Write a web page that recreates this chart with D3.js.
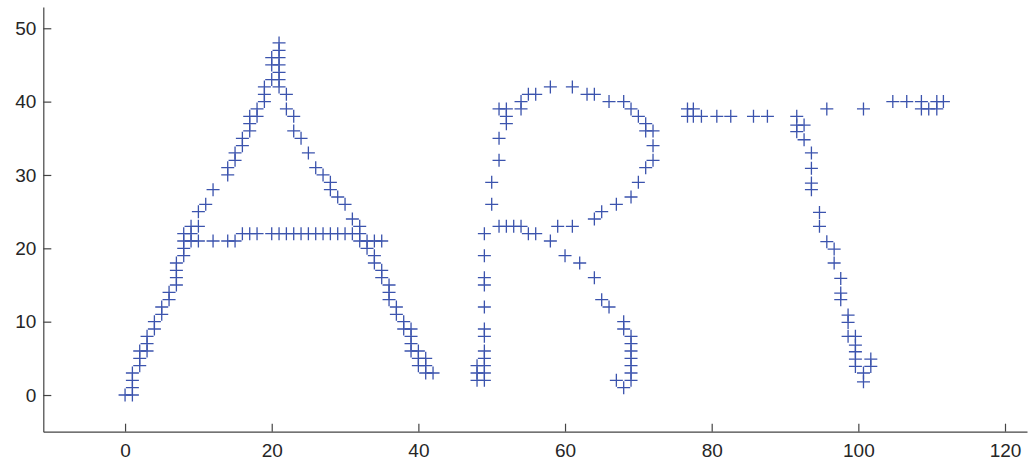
<!DOCTYPE html>
<html>
<head>
<meta charset="utf-8">
<script src="https://cdn.jsdelivr.net/npm/d3@7"></script>
<style>
  body { margin: 0; background: #fff; }
  .tick text { font-family: "Liberation Sans", Arial, sans-serif; font-size: 19px; fill: #262626; }
</style>
</head>
<body>
<script>
var W = 1031, H = 468;

// points, one array per letter
var letterA = [
   [0,0],[1,0],[1,1],[1,2],[1,3],[2,4],[2,5],[2,6],[3,6],[3,7],[3,8],[4,9],[4,10],
   [5,11],[5,12],[6,13],[6,14],[7,15],[7,16],[7,17],[7,18],[8,19],[8,20],[8,21],[9,21],
   [10,21],[8,22],[9,22],[9,23],[10,23],[10,25],[11,26],[12,28],[14,30],[14,31],[15,32],
   [15,33],[16,34],[16,35],[17,36],[17,37],[17,38],[18,38],[18,39],[19,40],[19,41],[19,42],
   [20,43],[21,43],[21,42],[21,44],[20,45],[21,45],[20,46],[21,46],[21,47],[21,48],
   // right stroke
   [22,41],[22,39],[23,38],[23,36],[24,35],[25,33],[26,31],[27,30],[28,29],[28,28],
   [29,27],[30,26],[31,24],[32,23],[32,22],[32,21],[33,21],[34,21],[35,21],[33,20],
   [34,19],[34,18],[35,17],[35,16],[36,15],[36,14],[36,13],[37,12],[37,11],[38,10],
   [38,9],[39,9],[39,8],[39,7],[39,6],[40,6],[40,5],[41,5],[40,4],[41,4],[41,3],[42,3],
   // crossbar
   [12,21],[14,21],[15,21],[16,22],[17,22],[18,22],[20,22],[21,22],[22,22],[23,22],
   [24,22],[25,22],[26,22],[27,22],[28,22],[29,22],[30,22],[31,22]
];

var letterR = [
   [49,22],[49,19],[49,16],[49,15],[49,12],[49,9],[49,8],[49,6],[49,5],[49,4],[49,3],[49,2],
   [48,4],[48,3],[48,2],
   [50,26],[50,29],[51,32],[51,35],[52,37],[52,38],[51,39],[52,39],[54,39],[54,40],
   [55,41],[56,41],[58,42],[61,42],[63,41],[64,41],[66,40],[68,40],[69,39],[70,38],
   [71,37],[71,36],[72,36],[72,34],[72,32],[71,31],[70,29],[69,27],[67,26],[65,25],
   [64,24],[61,23],[59,23],[54,23],[53,23],[52,23],[51,23],[55,22],[56,22],
   [58,21],[60,19],[62,18],[64,16],[65,13],[66,12],[68,10],[68,9],
   [69,8],[69,7],[69,6],[69,5],[69,4],[69,3],[69,2],[67,2],[68,1]
];

var letterT = [
   [76.7,39],[77.5,39],[76.7,38],[77.5,38],[78.6,38],[80.7,38],[82.6,38],[85.7,38],
   [87.6,38],[91.6,38],[91.6,36.8],[92.6,36.8],[91.6,35.9],[92.6,34.8],[93.6,33],
   [93.6,30.9],[93.6,28.9],[93.6,28],[95.7,39],[100.7,39],[104.7,40],[106.6,40],
   [108.6,40],[110.7,40],[111.6,40],[108.6,39],[109.6,39],[110.7,39],
   [94.7,24.9],[94.7,23],[95.7,20.9],[96.7,19.9],[96.7,18],[97.6,15.9],[97.6,13.9],
   [97.6,13],[98.6,10.9],[98.6,9.9],[98.6,8],[99.6,8],[99.6,6.8],[99.6,5.9],[99.6,4.9],
   [99.6,3.9],[101.7,4.9],[101.7,3.9],[100.7,3],[100.7,1.8]
];

var xTicks = [0, 20, 40, 60, 80, 100, 120];
var yTicks = [0, 10, 20, 30, 40, 50];

var x = d3.scaleLinear().domain([-11.15, 123]).range([43.3, 1027]);
var y = d3.scaleLinear().domain([-5, 52.9]).range([431.7, 7]);

var svg = d3.select("body").append("svg")
   .attr("width", W)
   .attr("height", H);

// axes, ticks pointing inside
var xAxis = svg.append("g")
   .attr("transform", "translate(0," + y(-5) + ")")
   .call(d3.axisBottom(x).tickValues(xTicks).tickSizeInner(-8).tickSizeOuter(0).tickPadding(12));
var yAxis = svg.append("g")
   .attr("transform", "translate(" + x(-11.15) + ",0)")
   .call(d3.axisLeft(y).tickValues(yTicks).tickSizeInner(-8).tickSizeOuter(0).tickPadding(7));
svg.selectAll(".domain").attr("stroke", "#444").attr("stroke-width", 1.2);
svg.selectAll(".tick line").attr("stroke", "#444").attr("stroke-width", 1.2);

// plus markers
var pts = letterA.concat(letterR, letterT);
var s = 6.5;
svg.append("g")
   .selectAll("path")
   .data(pts)
   .enter()
   .append("path")
   .attr("d", function (d) {
      var cx = x(d[0]), cy = y(d[1]);
      return "M" + (cx - s) + "," + cy + "H" + (cx + s) + "M" + cx + "," + (cy - s) + "V" + (cy + s);
   })
   .attr("fill", "none")
   .attr("stroke", "#3b53ad")
   .attr("stroke-width", 1.3);
</script>
</body>
</html>
